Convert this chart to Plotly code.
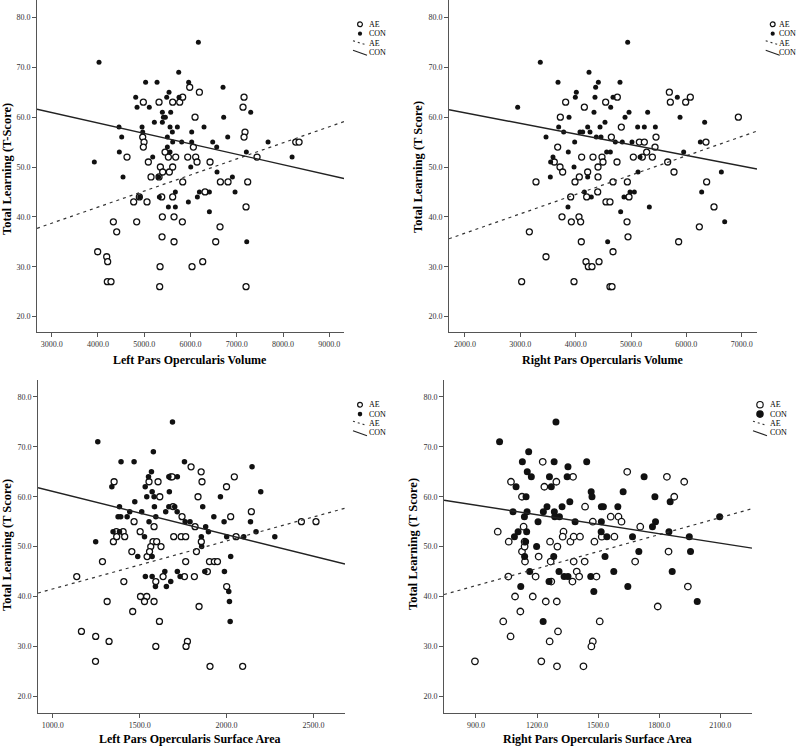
import plotly.graph_objects as go

W, H = 800, 746

# ---------------- DATA ----------------
# Panel 1: Left Pars Opercularis Volume
p1_ae_x = [4981, 5320, 5615, 5767, 5831, 5983, 6192, 7157, 7135, 6098, 7178, 7157, 4967, 4996, 4981, 4628, 5089, 5147, 5320, 5349,
           5399, 5543, 5450, 5522, 5615, 5680, 5940, 6062, 6112, 6141, 6422, 5832, 6646, 6811, 7236, 7438, 8274, 8346, 4772, 5060,
           4895, 5378, 5615, 6314, 5392, 5644, 5824, 4837, 4333, 4405, 6638, 7200, 5385, 5644, 6545, 3994, 4189, 4210, 4203, 4282,
           5342, 6033, 6264, 5334, 7200]
p1_ae_y = [63, 63, 63, 63, 64, 66, 65, 64, 62, 60, 57, 56, 56, 55, 54, 52, 51, 48, 48, 50,
           49, 49, 53, 52, 50, 52, 52, 54, 52, 51, 51, 47, 47, 47, 47, 52, 55, 55, 43, 43,
           44, 44, 44, 45, 40, 40, 39, 39, 39, 37, 38, 42, 36, 35, 35, 33, 32, 31, 27, 27,
           30, 30, 31, 26, 26]
p1_con_x = [4023, 3922, 6170, 5030, 5277, 5960, 5745, 4816, 4845, 5110, 5486, 5536, 5752, 6703, 6717, 7301, 4455, 4513, 4462, 4542,
            4953, 4967, 5219, 5392, 5414, 5457, 5392, 5572, 5558, 5716, 5608, 5615, 5500, 5500, 5558, 5810, 6026, 6026, 6292, 6480,
            6566, 6804, 7207, 7676, 8195, 5183, 6005, 6573, 6905, 5313, 4902, 5673, 6192, 6408, 6148, 6963, 5522, 5673, 5954, 6408,
            7215, 5327]
p1_con_y = [71, 51, 75, 67, 67, 67, 69, 64, 62, 62, 64, 65, 64, 66, 60, 61, 58, 56, 53, 48,
            58, 57, 59, 61, 60, 60, 59, 61, 58, 58, 57, 55, 56, 54, 53, 55, 57, 55, 58, 55,
            54, 56, 53, 55, 52, 52, 50, 49, 48, 48, 44, 45, 45, 45, 44, 45, 42, 42, 43, 41,
            35, 44]
p1_fit_x = [2683, 9317]
p1_ae_fit = [37.7, 59.1]
p1_con_fit = [61.6, 47.7]

# Panel 2: Right Pars Opercularis Volume
p2_ae_x = [3819, 3723, 4157, 4542, 4753, 3675, 3614, 3717, 3765, 3283, 3988, 4066, 4108, 4217, 4199, 4313, 4404, 4404, 4476, 4494,
           4645, 4747, 4675, 4398, 4548, 4620, 4825, 4934, 4964, 3910, 3753, 3922, 4060, 4090, 4102, 3163, 3464, 3024, 3970, 4187,
           4229, 4295, 4422, 4675, 4620, 4657, 4928, 4946, 5042, 5151, 5241, 5205, 5283, 5386, 5434, 5452, 5693, 5711, 5988, 6072,
           5663, 5777, 5861, 6355, 6367, 6500, 6235, 6940]
p2_ae_y = [63, 60, 62, 63, 64, 54, 51, 50, 49, 47, 47, 48, 52, 49, 44, 52, 48, 50, 52, 51,
           56, 51, 47, 45, 43, 43, 58, 47, 44, 44, 40, 39, 40, 39, 35, 37, 32, 27, 27, 31,
           30, 30, 31, 33, 26, 26, 39, 36, 52, 55, 55, 52, 53, 52, 54, 56, 65, 63, 63, 64,
           51, 49, 35, 55, 47, 42, 38, 60]
p2_con_x = [2952, 3361, 3681, 3464, 3590, 3548, 3542, 3693, 3783, 3880, 3867, 3970, 3982, 4012, 3994, 3861, 4078, 4127, 4241, 4361,
            4410, 4349, 4331, 4217, 4259, 4373, 4458, 4440, 4530, 4217, 4157, 4283, 4560, 4627, 4633, 4675, 4801, 4717, 4843, 4892,
            4964, 4940, 4813, 4873, 4578, 4982, 5060, 5018, 5120, 5241, 5301, 5127, 5163, 5331, 5440, 5837, 5886, 5952, 6253, 6331,
            6277, 6633, 6693]
p2_con_y = [62, 71, 67, 56, 52, 51, 48, 58, 57, 60, 53, 50, 55, 65, 64, 42, 57, 57, 69, 66,
            67, 64, 61, 58, 57, 56, 56, 58, 59, 48, 45, 44, 53, 53, 62, 64, 67, 55, 55, 60,
            61, 75, 41, 44, 35, 45, 45, 55, 58, 58, 61, 49, 52, 42, 58, 64, 60, 53, 55, 59,
            45, 49, 39]
p2_fit_x = [1711, 7277]
p2_ae_fit = [35.6, 57.2]
p2_con_fit = [61.5, 49.6]

# Panel 3: Left Pars Opercularis Surface Area
p3_ae_x = [1353, 1554, 1606, 1679, 1687, 1796, 1854, 1859, 2045, 2000, 1616, 1836, 1692, 1744, 2024, 2143, 1468, 1405, 1414, 1366,
           1349, 1368, 1503, 1583, 1819, 1577, 1598, 1564, 1623, 1543, 1557, 1455, 1696, 1739, 1765, 1855, 1827, 2055, 1902, 1930,
           1948, 1765, 1286, 1890, 1138, 1409, 1593, 1635, 1758, 1815, 2001, 1505, 1541, 1528, 1583, 1313, 1460, 1842, 1614, 1165,
           1247, 1324, 1775, 1767, 1593, 1246, 1905, 2093, 2431, 2515]
p3_ae_y = [63, 63, 63, 64, 64, 66, 65, 63, 64, 62, 60, 60, 58, 56, 56, 57, 55, 53, 52, 53,
           51, 52, 53, 54, 54, 51, 51, 50, 50, 48, 49, 49, 52, 52, 52, 51, 49, 52, 47, 47,
           47, 47, 47, 45, 44, 43, 43, 44, 44, 44, 42, 40, 40, 39, 39, 39, 37, 38, 35, 33,
           32, 31, 31, 30, 30, 27, 26, 26, 55, 55]
p3_con_x = [1259, 1247, 1393, 1468, 1689, 1579, 1568, 1551, 1758, 1668, 1717, 1340, 1532, 1572, 1583, 1541, 1472, 1384, 1585, 1668,
            1702, 1671, 1347, 1376, 1391, 1428, 1443, 1512, 1593, 1554, 1650, 1716, 1528, 1384, 1762, 1790, 1863, 1927, 1965, 1986,
            1880, 1896, 1855, 2001, 2099, 2147, 2197, 2138, 2170, 2278, 1489, 1572, 1533, 1572, 1591, 1645, 1654, 1679, 1717, 1733,
            1875, 1988, 2024, 2013, 2017, 2021, 1857]
p3_con_y = [71, 51, 67, 67, 75, 69, 65, 64, 67, 64, 64, 62, 62, 61, 60, 60, 59, 58, 58, 58,
            58, 61, 53, 56, 56, 56, 57, 57, 56, 55, 57, 57, 52, 53, 55, 55, 58, 56, 60, 55,
            54, 53, 52, 52, 52, 66, 61, 55, 53, 52, 48, 48, 44, 44, 42, 45, 42, 43, 45, 44,
            45, 45, 48, 41, 39, 35, 50]
p3_fit_x = [915, 2682]
p3_ae_fit = [40.7, 57.7]
p3_con_fit = [61.8, 46.5]

# Panel 4: Right Pars Opercularis Surface Area
p4_ae_x = [1228, 1643, 1838, 1923, 1072, 1295, 1236, 1377, 1126, 1874, 1436, 1562, 1600, 1615, 1474, 1707, 1134, 1007, 1061, 1126,
           1139, 1139, 1141, 1208, 1264, 1267, 1300, 1330, 1326, 1364, 1380, 1411, 1482, 1518, 1580, 1380, 1434, 1395, 1407, 1492,
           1374, 1270, 1682, 1846, 1193, 1059, 1092, 1179, 1243, 1297, 1118, 1034, 1508, 1793, 1941, 1070, 1262, 1303, 1474, 1467,
           895, 1221, 1298, 1428]
p4_ae_y = [67, 65, 64, 63, 63, 63, 62, 64, 60, 60, 58, 56, 56, 55, 55, 54, 54, 53, 51, 49,
           50, 51, 47, 48, 51, 47, 50, 53, 52, 51, 52, 52, 51, 52, 52, 47, 47, 45, 44, 44,
           43, 43, 47, 49, 44, 44, 40, 40, 39, 39, 37, 35, 35, 38, 42, 32, 31, 33, 31, 30,
           27, 27, 26, 26]
p4_con_x = [1016, 1293, 1159, 1128, 1284, 1444, 1152, 1172, 1261, 1348, 1352, 1726, 1097, 1270, 1146, 1466, 1470, 1623, 1779, 1082,
            1151, 1231, 1249, 1285, 1323, 1361, 1287, 1310, 1138, 1516, 1526, 1597, 1205, 1387, 1516, 1782, 1767, 1854, 1848, 1948,
            2097, 1107, 1149, 1089, 1144, 1515, 1543, 1669, 1139, 1198, 1282, 1534, 1700, 1954, 1164, 1308, 1333, 1352, 1464, 1577,
            1864, 1259, 1120, 1479, 1646, 1987, 1230]
p4_con_y = [71, 75, 69, 67, 67, 67, 65, 64, 64, 64, 66, 64, 62, 62, 60, 61, 60, 61, 60, 57,
            57, 57, 58, 57, 58, 59, 56, 56, 56, 58, 58, 58, 55, 55, 55, 55, 54, 59, 53, 52,
            56, 53, 53, 52, 51, 53, 52, 52, 48, 50, 48, 48, 49, 49, 45, 45, 44, 44, 44, 45,
            45, 43, 42, 41, 42, 39, 35]
p4_fit_x = [743, 2256]
p4_ae_fit = [40.4, 57.6]
p4_con_fit = [59.3, 49.7]

group_labels = ["AE", "CON"]
x_titles = ["Left Pars Opercularis Volume", "Right Pars Opercularis Volume",
            "Left Pars Opercularis Surface Area", "Right Pars Opercularis Surface Area"]
y_titles = ["Total Learning (T-Score)", "Total Learning (T Score)",
            "Total Learning (T Score)", "Total Learning (T Score)"]

# ---------------- LAYOUT HELPERS ----------------
def PX(px):
    return px / W

def PY(py):
    return 1 - py / H

SERIF = "Liberation Serif"
AXC = "#555555"

panels = [
    dict(ae=(p1_ae_x, p1_ae_y), con=(p1_con_x, p1_con_y), fx=p1_fit_x, fae=p1_ae_fit, fcon=p1_con_fit,
         xdom=(37, 344), ydom=(332, 0), xr=(2683, 9317), yr=(16.9, 83.5), dtick=1000,
         xt=(190, 360, "middle"), yt=(0, 169, "left"), leg=(360, 24.3), tg=8.5, aes=6, cons=5, lr=(2.4, 2.1)),
    dict(ae=(p2_ae_x, p2_ae_y), con=(p2_con_x, p2_con_y), fx=p2_fit_x, fae=p2_ae_fit, fcon=p2_con_fit,
         xdom=(449, 757), ydom=(332, 0), xr=(1711, 7277), yr=(16.9, 83.5), dtick=1000,
         xt=(602, 360, "middle"), yt=(418, 167, "center"), leg=(772.7, 24.3), tg=6.5, aes=6, cons=5, lr=(2.4, 2.1)),
    dict(ae=(p3_ae_x, p3_ae_y), con=(p3_con_x, p3_con_y), fx=p3_fit_x, fae=p3_ae_fit, fcon=p3_con_fit,
         xdom=(38, 345), ydom=(713, 380), xr=(915, 2682), yr=(16.65, 83.4), dtick=500,
         xt=(190, 746, "bottom"), yt=(0, 545, "left"), leg=(360, 404.7), tg=9, aes=6, cons=5.5, lr=(2.4, 2.3)),
    dict(ae=(p4_ae_x, p4_ae_y), con=(p4_con_x, p4_con_y), fx=p4_fit_x, fae=p4_ae_fit, fcon=p4_con_fit,
         xdom=(444, 752), ydom=(713, 380), xr=(743, 2256), yr=(16.65, 83.4), dtick=300,
         xt=(597, 746, "bottom"), yt=(413, 544, "center"), leg=(760, 404.7), tg=10, aes=6.5, cons=7, lr=(3.2, 3.8)),
]

fig = go.Figure()
shapes = []
annotations = []
layout_axes = {}

for i, p in enumerate(panels):
    n = "" if i == 0 else str(i + 1)
    xa, ya = "x" + n, "y" + n
    # points
    fig.add_trace(go.Scatter(x=p["ae"][0], y=p["ae"][1], mode="markers", xaxis=xa, yaxis=ya,
                             name=group_labels[0], showlegend=False,
                             marker=dict(symbol="circle", size=p["aes"], color="white",
                                         line=dict(color="#111111", width=1.3))))
    fig.add_trace(go.Scatter(x=p["con"][0], y=p["con"][1], mode="markers", xaxis=xa, yaxis=ya,
                             name=group_labels[1], showlegend=False,
                             marker=dict(symbol="circle", size=p["cons"], color="#111111",
                                         line=dict(width=0))))
    # fit lines
    fig.add_trace(go.Scatter(x=p["fx"], y=p["fae"], mode="lines", xaxis=xa, yaxis=ya,
                             name=group_labels[0], showlegend=False,
                             line=dict(color="#333333", width=1.2, dash="3px,4px")))
    fig.add_trace(go.Scatter(x=p["fx"], y=p["fcon"], mode="lines", xaxis=xa, yaxis=ya,
                             name=group_labels[1], showlegend=False,
                             line=dict(color="#222222", width=1.4)))

    layout_axes["xaxis" + n] = dict(
        domain=[PX(p["xdom"][0]), PX(p["xdom"][1])], range=list(p["xr"]), anchor=ya,
        showline=True, linecolor=AXC, linewidth=1, ticks="outside", ticklen=4, tickwidth=1,
        tickcolor=AXC, tick0=0, dtick=p["dtick"], tickformat=".1f", showgrid=False,
        zeroline=False, tickfont=dict(family=SERIF, size=8, color="#333333"))
    layout_axes["yaxis" + n] = dict(
        domain=[PY(p["ydom"][0]), PY(p["ydom"][1])], range=list(p["yr"]), anchor=xa,
        showline=True, linecolor=AXC, linewidth=1, ticks="outside", ticklen=4, tickwidth=1,
        tickcolor=AXC, tick0=0, dtick=10, tickformat=".1f", showgrid=False,
        zeroline=False, tickfont=dict(family=SERIF, size=8, color="#333333"))

    # axis titles
    annotations.append(dict(text=x_titles[i], x=PX(p["xt"][0]), y=PY(p["xt"][1]), xref="paper", yref="paper",
                            xanchor="center", yanchor=p["xt"][2], showarrow=False, borderpad=0, borderwidth=0,
                            font=dict(family=SERIF, size=12, color="black", weight="bold")))
    annotations.append(dict(text=y_titles[i], x=PX(p["yt"][0]), y=PY(p["yt"][1]), xref="paper", yref="paper",
                            xanchor=p["yt"][2], yanchor="middle", showarrow=False, textangle=-90,
                            borderpad=0, borderwidth=0,
                            font=dict(family=SERIF, size=12.5, color="black", weight="bold")))

    # legend (custom, compact like the original)
    lx, ly = p["leg"]
    ro, rf = p["lr"]
    shapes.append(dict(type="circle", xref="paper", yref="paper",
                       x0=PX(lx - ro), x1=PX(lx + ro), y0=PY(ly + ro), y1=PY(ly - ro),
                       line=dict(color="#111111", width=1.2), fillcolor="white"))
    shapes.append(dict(type="circle", xref="paper", yref="paper",
                       x0=PX(lx - rf), x1=PX(lx + rf), y0=PY(ly + 9.4 + rf), y1=PY(ly + 9.4 - rf),
                       line=dict(color="#111111", width=0), fillcolor="#111111"))
    shapes.append(dict(type="line", xref="paper", yref="paper",
                       x0=PX(lx - 7), x1=PX(lx + 6), y0=PY(ly + 16.5), y1=PY(ly + 20.5),
                       line=dict(color="#333333", width=1.1, dash="2px,3px")))
    shapes.append(dict(type="line", xref="paper", yref="paper",
                       x0=PX(lx - 7), x1=PX(lx + 7), y0=PY(ly + 26), y1=PY(ly + 31),
                       line=dict(color="#222222", width=1.2)))
    tx = lx + p["tg"]
    for lab, dy in zip(group_labels + group_labels, [0, 9.4, 18.7, 28.2]):
        annotations.append(dict(text=lab, x=PX(tx), y=PY(ly + dy), xref="paper", yref="paper",
                                xanchor="left", yanchor="middle", showarrow=False,
                                borderpad=0, borderwidth=0,
                                font=dict(family=SERIF, size=8, color="black")))

fig.update_layout(width=W, height=H, margin=dict(l=0, r=0, t=0, b=0),
                  paper_bgcolor="white", plot_bgcolor="white", showlegend=False,
                  shapes=shapes, annotations=annotations, **layout_axes)

fig.write_html("out.html", config={"displayModeBar": False},
               post_script="document.body.style.margin='0px';")
